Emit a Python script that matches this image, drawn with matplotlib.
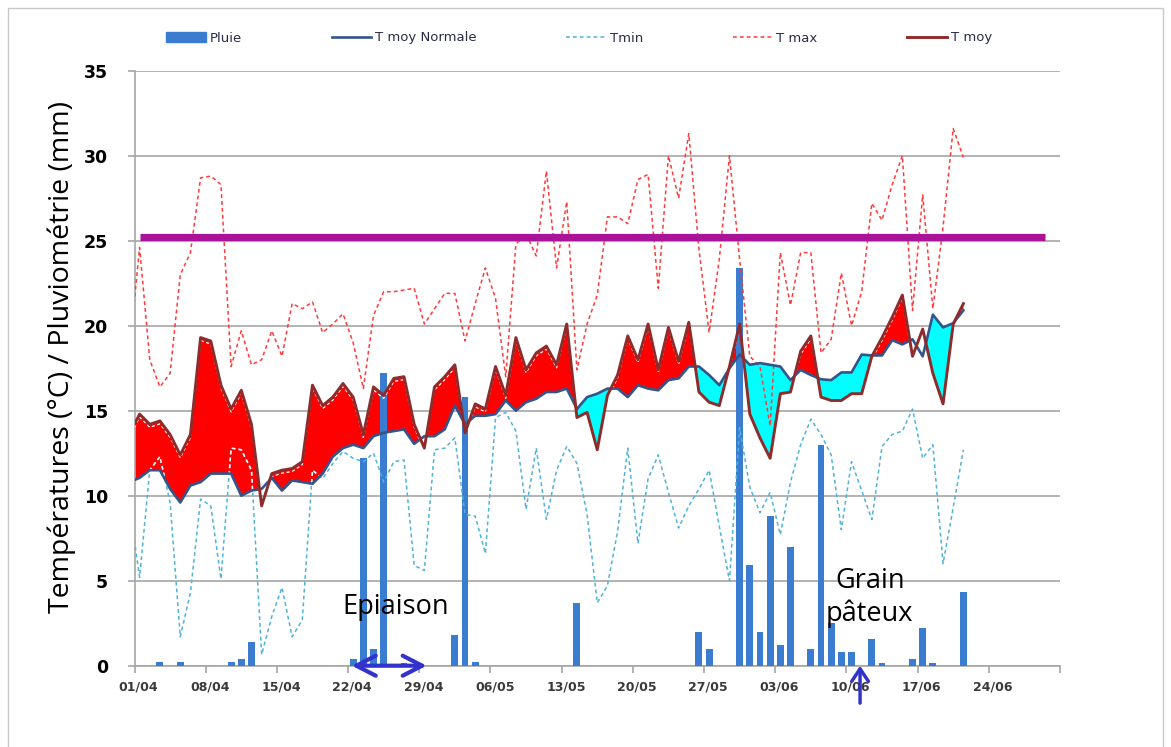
import numpy as np
import matplotlib
matplotlib.use("Agg")
import matplotlib.pyplot as plt
from matplotlib.lines import Line2D
from matplotlib.patches import Patch, Rectangle
from matplotlib.path import Path
from matplotlib.transforms import ScaledTranslation, offset_copy

# one value per day, 31/03 (cut by the axis) to 21/06
tmax = [18.5, 24.6, 18.0, 16.4, 17.2, 23.0, 24.3, 28.7, 28.8, 28.3,
        17.6, 19.7, 17.7, 18.0, 19.7, 18.2, 21.3, 21.0, 21.4, 19.6,
        20.1, 20.7, 19.0, 16.3, 20.6, 22.0, 22.0, 22.1, 22.2, 20.1,
        21.0, 21.9, 21.9, 19.1, 21.3, 23.4, 21.6, 17.0, 24.8, 25.4,
        24.1, 29.1, 23.4, 27.3, 17.4, 20.1, 21.8, 26.4, 26.4, 26.0,
        28.6, 28.9, 22.2, 30.0, 27.5, 31.3, 24.5, 19.6, 23.9, 30.0,
        23.9, 18.2, 17.6, 14.1, 24.3, 21.2, 24.3, 24.3, 18.4, 19.2,
        23.1, 20.0, 22.0, 27.2, 26.2, 28.3, 30.0, 20.9, 27.7, 21.0,
        25.8, 31.6, 29.9]
tmin = [9.4, 5.2, 11.5, 12.3, 9.6, 1.7, 4.3, 9.8, 9.4, 5.1,
        12.8, 12.7, 11.5, 0.65, 2.9, 4.6, 1.7, 2.7, 11.5, 11.0,
        11.9, 12.6, 12.2, 12.0, 12.5, 10.8, 12.0, 12.1, 5.9, 5.6,
        12.7, 12.8, 13.4, 8.9, 8.8, 6.6, 14.6, 14.9, 13.8, 9.2,
        12.8, 8.6, 11.5, 12.9, 11.9, 8.9, 3.7, 4.7, 7.9, 12.8,
        7.2, 11.0, 12.4, 10.2, 8.1, 9.4, 10.4, 11.5, 8.2, 5.0,
        14.0, 10.5, 9.0, 10.2, 7.7, 10.8, 13.0, 14.5, 13.6, 12.4,
        8.0, 12.0, 10.3, 8.6, 12.9, 13.6, 13.8, 15.1, 12.2, 13.0,
        6.0, 9.3, 12.7]
tmoy = [13.6, 14.8, 14.2, 14.4, 13.6, 12.4, 13.6, 19.3, 19.1, 16.5,
        15.1, 16.2, 14.2, 9.4, 11.3, 11.5, 11.6, 12.0, 16.5, 15.3,
        15.8, 16.6, 15.8, 13.6, 16.4, 15.9, 16.9, 17.0, 14.2, 12.8,
        16.4, 17.0, 17.7, 13.7, 15.4, 15.1, 17.6, 15.9, 19.3, 17.4,
        18.4, 18.8, 17.7, 20.1, 14.6, 14.9, 12.7, 15.9, 17.1, 19.4,
        18.0, 20.1, 17.4, 19.9, 17.9, 20.2, 16.1, 15.5, 15.3, 17.6,
        20.1, 14.8, 13.4, 12.2, 16.0, 16.1, 18.5, 19.4, 15.8, 15.6,
        15.6, 16.0, 16.0, 18.2, 19.3, 20.5, 21.8, 18.2, 19.8, 17.2,
        15.4, 20.1, 21.3]
tmoy_normale = [10.8, 11.05, 11.5, 11.5, 10.4, 9.6, 10.6, 10.8, 11.3, 11.3,
                11.3, 10.0, 10.3, 10.4, 11.05, 10.3, 10.9, 10.8, 10.7, 11.3,
                12.3, 12.8, 13.0, 12.8, 13.5, 13.7, 13.8, 13.9, 13.05, 13.5,
                13.5, 13.9, 15.3, 14.2, 14.7, 14.7, 14.8, 15.6, 15.0, 15.5,
                15.7, 16.1, 16.1, 16.3, 15.1, 15.8, 16.0, 16.3, 16.3, 15.8,
                16.5, 16.3, 16.2, 16.8, 16.9, 17.6, 17.6, 17.1, 16.5, 17.5,
                18.3, 17.7, 17.8, 17.7, 17.6, 16.8, 17.4, 17.1, 16.85, 16.8,
                17.25, 17.25, 18.3, 18.25, 18.25, 19.15, 18.9, 19.2, 18.2, 20.65,
                19.9, 20.15, 20.9]
pluie = [0, 0, 0, 0.2, 0, 0.2, 0, 0, 0, 0,
         0.2, 0.4, 1.4, 0, 0, 0, 0, 0, 0, 0,
         0, 0, 0.4, 12.2, 1.0, 17.2, 0, 0.15, 0, 0,
         0, 0, 1.8, 15.8, 0.2, 0, 0, 0, 0, 0,
         0, 0, 0, 0, 3.7, 0, 0, 0, 0, 0,
         0, 0, 0, 0, 0, 0, 2.0, 1.0, 0, 0,
         23.4, 5.9, 2.0, 8.8, 1.2, 7.0, 0, 1.0, 13.0, 2.5,
         0.8, 0.8, 0, 1.6, 0.15, 0, 0, 0.4, 2.2, 0.15,
         0, 0, 4.35]
seuil = 25.2
tick_labels = ['01/04', '08/04', '15/04', '22/04', '29/04', '06/05', '13/05',
               '20/05', '27/05', '03/06', '10/06', '17/06', '24/06']

jour = np.arange(-1, len(tmax) - 1)   # 0 = 01/04
x = jour + 0.5
tmoy_a = np.array(tmoy)
norm_a = np.array(tmoy_normale)
pointille = (0, (2.5, 2))

fig = plt.figure(figsize=(11.71, 7.47), dpi=100)
ax = fig.add_axes([134.5 / 1171, 1 - 665.7 / 747, (1060 - 134.5) / 1171, 595 / 747])
ax.set_xlim(0, 91)
ax.set_ylim(0, 35)

# fills between the mean and the normal (the author left a few days blank)
chaud = (tmoy_a > norm_a) & (jour != 77)
froid = (tmoy_a < norm_a) & (jour >= 43) & (jour != 76)
rouge = ax.fill_between(x, norm_a, tmoy_a, where=chaud, interpolate=True,
                        color='#FF0000', lw=0, zorder=2)
ax.fill_between(x, norm_a, tmoy_a, where=froid, interpolate=True,
                color='#00FFFF', lw=0, zorder=2)
zone_rouge = Path.make_compound_path(*rouge.get_paths())

ax.bar(x, pluie, width=0.68, color='#3A7CCF', zorder=3)
ax.plot(x, tmin, color='#4FB3DA', lw=1.1, ls=pointille, zorder=4)
ax.plot(x, tmax, color='#FF3B3B', lw=1.1, ls=pointille, zorder=4)

# inside the red area the dotted lines show up white
l1, = ax.plot(x, tmin, color='white', lw=1.1, ls=pointille, zorder=4.5)
l2, = ax.plot(x, tmoy, color='white', lw=0.9, ls=pointille, zorder=4.5,
              transform=offset_copy(ax.transData, fig=fig, y=-3, units='dots'))
for l in (l1, l2):
    l.set_clip_path(zone_rouge, ax.transData)

ax.plot([0.5, 89.5], [seuil, seuil], color='#AA1297', lw=5.2,
        solid_capstyle='butt', zorder=5)
ax.plot(x, tmoy_normale, color='#34558B', lw=1.9, zorder=6)
ax.plot(x, tmoy, color='#8E2B2B', lw=2.1, zorder=7)

ax.set_yticks(range(0, 36, 5))
ax.set_xticks(np.arange(0, 92, 7))
ax.set_xticklabels(tick_labels + [''])
ax.yaxis.grid(True, color='#A6A6A6', lw=1.2)
ax.set_axisbelow(True)
for s in ['top', 'right']:
    ax.spines[s].set_visible(False)
for s in ['left', 'bottom']:
    ax.spines[s].set_color('#A6A6A6')
    ax.spines[s].set_linewidth(1.2)
ax.tick_params(axis='x', length=5, width=1.2, color='#A6A6A6', pad=6,
               labelsize=9, labelcolor='#3A3A3A')
ax.tick_params(axis='y', length=5, width=1.2, color='#A6A6A6', pad=14,
               labelsize=12.5, labelcolor='black')
for lab in ax.get_xticklabels() + ax.get_yticklabels():
    lab.set_fontweight('bold')
for lab in ax.get_xticklabels():
    lab.set_transform(lab.get_transform() + ScaledTranslation(3 / 72, 0, fig.dpi_scale_trans))

fig.text(62 / 1171, 1 - 357 / 747, 'Températures (°C) / Pluviométrie (mm)',
         rotation=90, ha='center', va='center', fontsize=20.5, family='Open Sans')

ax.text(25.7, 3.45, 'Epiaison', ha='center', va='center', fontsize=19.5,
        family='Open Sans', zorder=9)
ax.text(72.3, 4.0, 'Grain\npâteux', ha='center', va='center', fontsize=19.5,
        family='Open Sans', linespacing=1.2, zorder=9)
ax.annotate('', xy=(21.36, 0), xytext=(28.73, 0), annotation_clip=False, zorder=9,
            arrowprops=dict(arrowstyle='<->, head_length=0.7, head_width=0.36',
                            color='#3333CC', lw=3, mutation_scale=20,
                            shrinkA=0, shrinkB=0))
ax.annotate('', xy=(71.34, 0), xytext=(71.34, -2.2), annotation_clip=False, zorder=9,
            arrowprops=dict(arrowstyle='->, head_length=0.6, head_width=0.4',
                            color='#3333CC', lw=2.5, mutation_scale=15,
                            shrinkA=0, shrinkB=0))

handles = [Patch(color='#3A7CCF'),
           Line2D([], [], color='#34558B', lw=1.9),
           Line2D([], [], color='#4FB3DA', lw=1.1, ls=pointille),
           Line2D([], [], color='#FF3B3B', lw=1.1, ls=pointille),
           Line2D([], [], color='#8E2B2B', lw=2.1)]
fig.legend(handles, ['Pluie', 'T moy Normale', 'Tmin', 'T max', 'T moy'],
           loc='center left', bbox_to_anchor=(166 / 1171, 1 - 38 / 747), ncol=5,
           frameon=False, fontsize=9.5, handlelength=3.0, handletextpad=0.3,
           columnspacing=6.8, borderpad=0, borderaxespad=0, labelcolor='#2B2B4B')

fig.add_artist(Rectangle((8 / 1171, -0.01), (1163 - 8) / 1171, 1.01 - 8 / 747,
                         transform=fig.transFigure, fill=False, ec='#C8C8C8', lw=1))

fig.savefig('out.png', dpi=100)
